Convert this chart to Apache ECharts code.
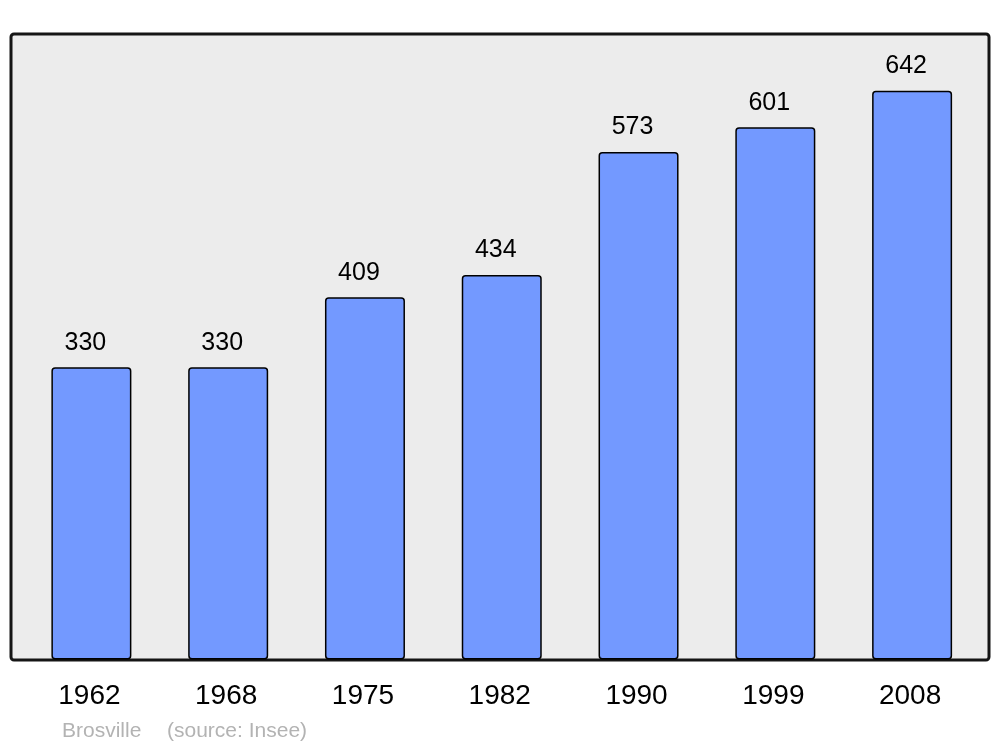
<!DOCTYPE html>
<html>
<head>
<meta charset="utf-8">
<script src="https://cdn.jsdelivr.net/npm/echarts@6/dist/echarts.min.js"></script>
<style>
html,body{margin:0;padding:0;background:#fff;}
#chart{width:1000px;height:747px;}
</style>
</head>
<body>
<div id="chart"></div>
<script>
const categories = ['1962', '1968', '1975', '1982', '1990', '1999', '2008'];
const population = [330, 330, 409, 434, 573, 601, 642];
const townName = 'Brosville';
const sourceText = '(source: Insee)';

const FONT = '"Liberation Sans", Arial, sans-serif';
const chart = echarts.init(document.getElementById('chart'), null, {renderer: 'canvas'});
chart.setOption({
  animation: false,
  backgroundColor: '#ffffff',
  graphic: [
    {
      type: 'rect', z: -10, silent: true,
      shape: {x: 11, y: 34, width: 978, height: 626, r: 3},
      style: {fill: '#ececec', stroke: '#151515', lineWidth: 3}
    },
    {
      type: 'text', x: 62, y: 731, silent: true,
      style: {text: townName, fontSize: 21, fontFamily: FONT, fill: '#b3b3b3', verticalAlign: 'middle'}
    },
    {
      type: 'text', x: 167, y: 731, silent: true,
      style: {text: sourceText, fontSize: 21, fontFamily: FONT, fill: '#b3b3b3', verticalAlign: 'middle'}
    }
  ],
  grid: {left: 23, right: 19.5, top: 34, bottom: 87.5, containLabel: false},
  xAxis: {
    type: 'category',
    data: categories,
    axisLine: {show: false},
    axisTick: {show: false},
    axisLabel: {color: '#000', fontSize: 28, fontFamily: FONT, margin: 23, padding: [0, 4, 0, 0]}
  },
  yAxis: {
    type: 'value', min: 0, max: 706.2,
    show: false,
    splitLine: {show: false}
  },
  series: [{
    type: 'bar',
    data: population,
    barWidth: 80,
    itemStyle: {color: '#7399ff', borderColor: '#000', borderWidth: 1.5, borderRadius: 3},
    label: {show: true, position: 'top', distance: 12, offset: [-6, 0], color: '#000', fontSize: 25, fontFamily: FONT}
  }]
});
</script>
</body>
</html>
